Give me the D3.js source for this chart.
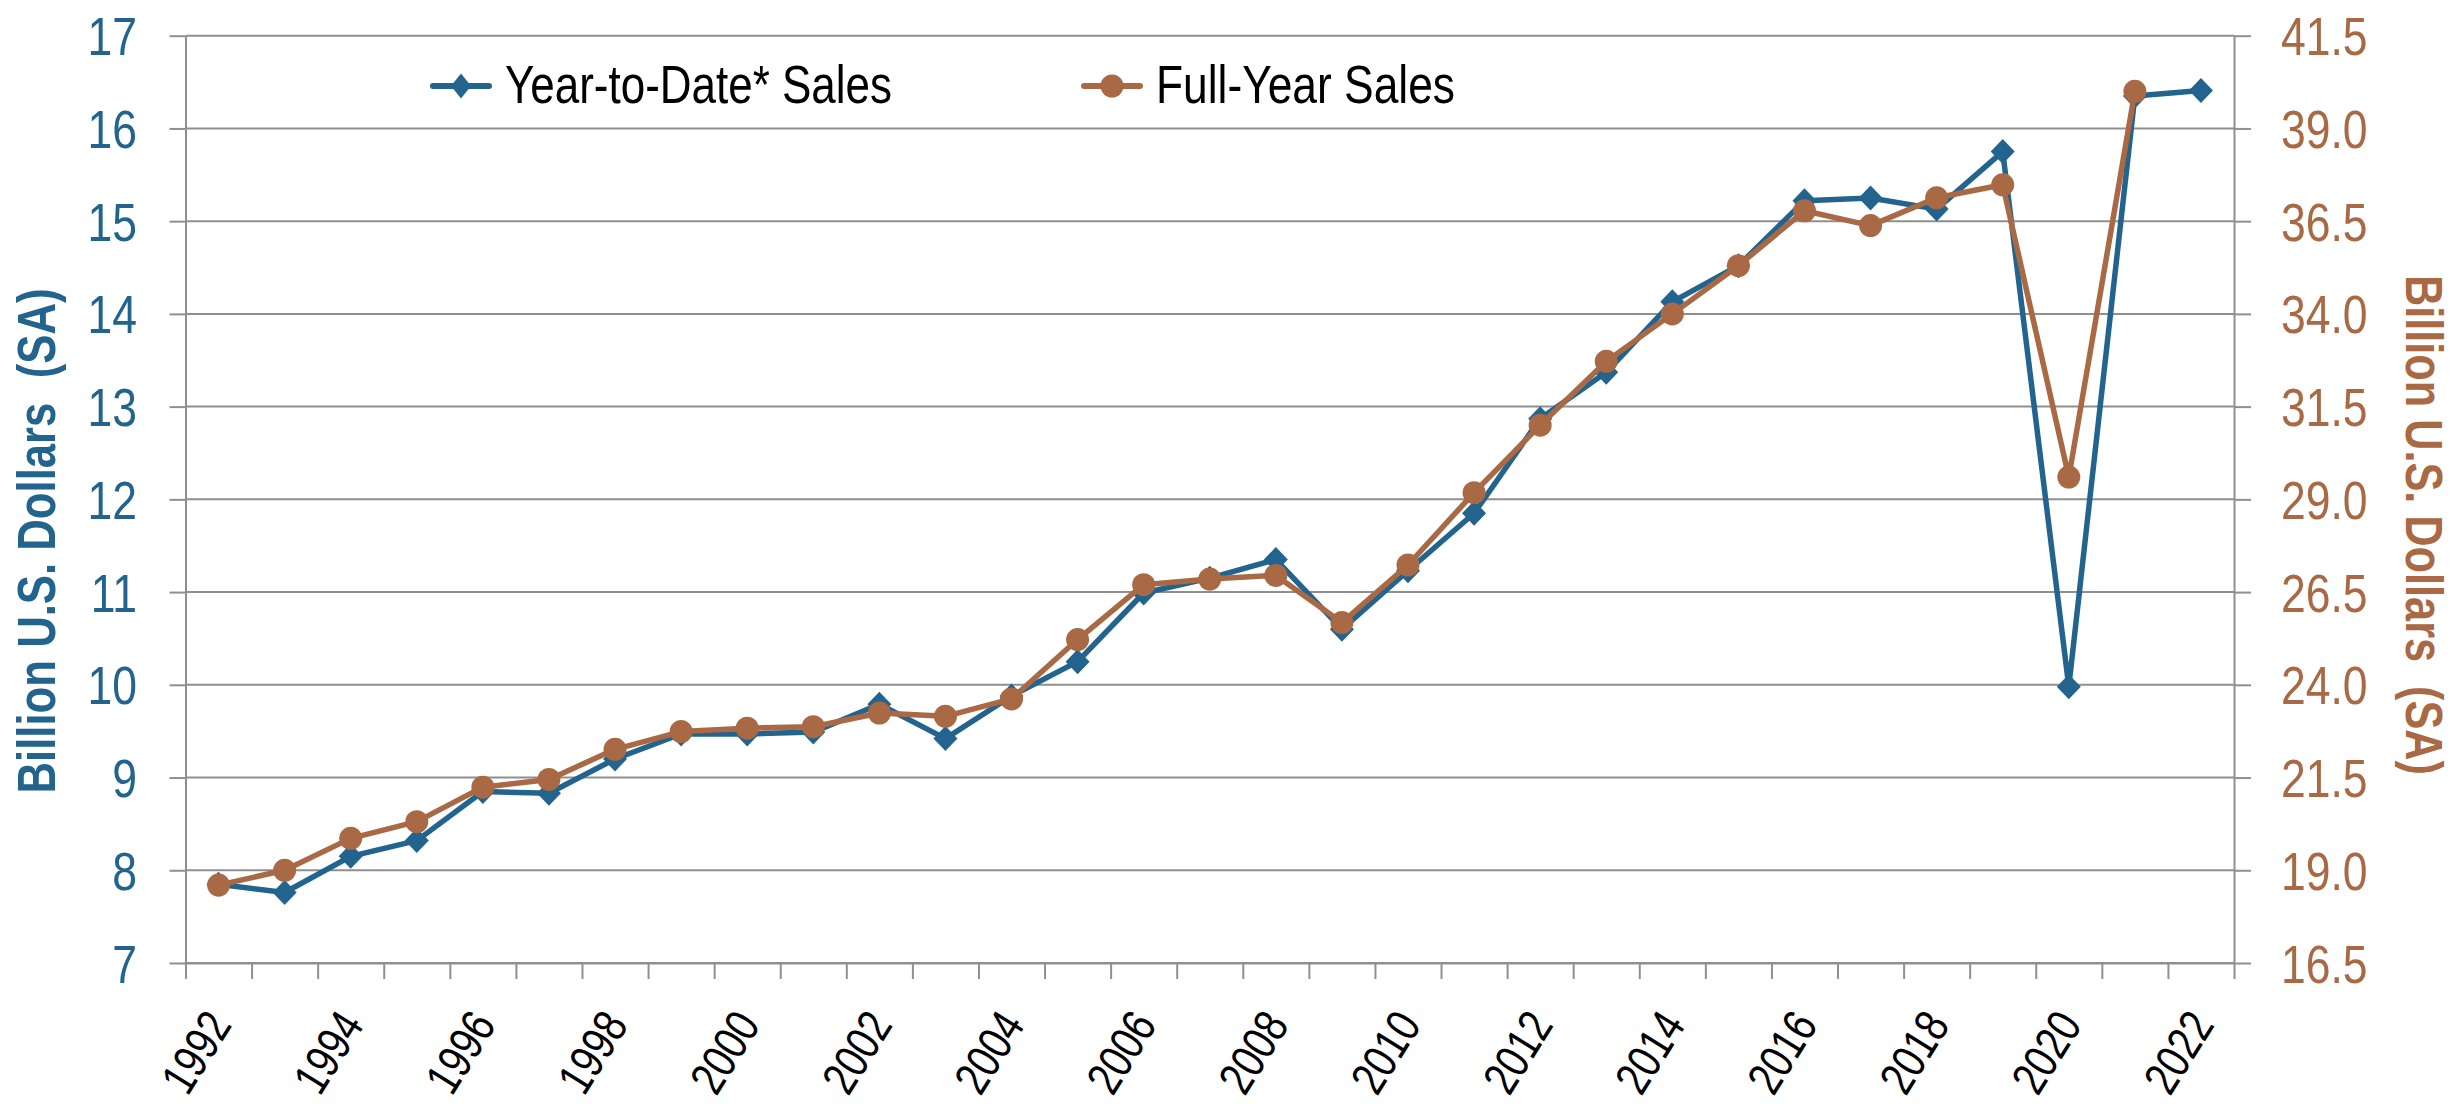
<!DOCTYPE html>
<html>
<head>
<meta charset="utf-8">
<script src="https://d3js.org/d3.v7.min.js"></script>
<style>
  body { margin: 0; background: #fff; }
  svg { display: block; font-family: "Liberation Sans", Arial, sans-serif; }
</style>
</head>
<body>
<svg id="chart"></svg>
<script>
// data
const years = [1992, 1993, 1994, 1995, 1996, 1997, 1998, 1999, 2000, 2001, 2002,
  2003, 2004, 2005, 2006, 2007, 2008, 2009, 2010, 2011, 2012, 2013, 2014, 2015,
  2016, 2017, 2018, 2019, 2020, 2021, 2022]
// left axis, billion $
const ytdSales = [7.85, 7.76, 8.15, 8.32, 8.85, 8.83, 9.2, 9.47, 9.47, 9.49, 9.79,
  9.42, 9.88, 10.25, 10.99, 11.15, 11.35, 10.6, 11.23, 11.85, 12.87, 13.37, 14.13,
  14.52, 15.22, 15.25, 15.13, 15.75, 9.98, 16.35, 16.41]
// right axis, billion $
const fullSales = [18.6, 19.0, 19.86, 20.31, 21.24, 21.45, 22.26, 22.74, 22.83, 22.87,
  23.24, 23.15, 23.62, 25.22, 26.7, 26.85, 26.95, 25.68, 27.23, 29.18, 31.0, 32.72,
  34.0, 35.3, 36.78, 36.38, 37.13, 37.48, 29.6, 40.0, null]
const leftTicks = [7, 8, 9, 10, 11, 12, 13, 14, 15, 16, 17]
const rightTicks = [16.5, 19, 21.5, 24, 26.5, 29, 31.5, 34, 36.5, 39, 41.5]
const yearLabels = [1992, 1994, 1996, 1998, 2000, 2002, 2004, 2006, 2008, 2010,
  2012, 2014, 2016, 2018, 2020, 2022]
const seriesNames = ['Year-to-Date* Sales', 'Full-Year Sales']

const width = 2456
const height = 1104
const blue = '#22648e'
const brown = '#a86944'
const grid = '#8f8f8f'
const squeeze = 0.84

const plot = { left: 185.5, right: 2234, top: 35.7, bottom: 963 }

const svg = d3.select('#chart').attr('width', width).attr('height', height)

const x = d3.scaleBand().domain(years).range([plot.left, plot.right])
const xEdge = d3.scaleLinear().domain([0, years.length]).range([plot.left, plot.right])
const y = d3.scaleLinear().domain([7, 17]).range([plot.bottom, plot.top])
const yR = d3.scaleLinear().domain([16.5, 41.5]).range([plot.bottom, plot.top])
const cx = d => x(d) + x.bandwidth() / 2

// gridlines
svg.append('g').selectAll('line').data(leftTicks).join('line')
  .attr('x1', plot.left).attr('x2', plot.right)
  .attr('y1', d => y(d)).attr('y2', d => y(d))
  .attr('stroke', grid).attr('stroke-width', 2)

// left axis
const gl = svg.append('g').attr('transform', `translate(${plot.left},0)`)
  .call(d3.axisLeft(y).tickValues(leftTicks).tickSize(16).tickSizeOuter(0).tickPadding(32))
gl.selectAll('path, line').attr('stroke', grid).attr('stroke-width', 2)
gl.selectAll('text')
  .attr('fill', blue).attr('font-size', 53).attr('font-family', null)
  .attr('x', -48.5 / squeeze).attr('dy', '0.36em')
  .attr('transform', `scale(${squeeze},1)`)

// right axis
const gr = svg.append('g').attr('transform', `translate(${plot.right},0)`)
  .call(d3.axisRight(yR).tickValues(rightTicks).tickFormat(d3.format('.1f'))
    .tickSize(17).tickSizeOuter(0).tickPadding(30))
gr.selectAll('path, line').attr('stroke', grid).attr('stroke-width', 2)
gr.selectAll('text')
  .attr('fill', brown).attr('font-size', 53).attr('font-family', null)
  .attr('x', 47 / squeeze).attr('dy', '0.36em')
  .attr('transform', `scale(${squeeze},1)`)

// bottom axis: ticks between the years
const gb = svg.append('g').attr('transform', `translate(0,${plot.bottom})`)
  .call(d3.axisBottom(xEdge).tickValues(d3.range(0, years.length + 1))
    .tickFormat('').tickSize(16).tickSizeOuter(0))
gb.selectAll('path, line').attr('stroke', grid).attr('stroke-width', 2)

// year labels
const gy = svg.append('g').attr('transform', `translate(0,${plot.bottom})`)
  .call(d3.axisBottom(x).tickValues(yearLabels).tickSize(0))
gy.select('.domain').remove()
gy.selectAll('.tick').attr('transform', d => `translate(${cx(d)},53)`)
gy.selectAll('text')
  .attr('fill', '#000').attr('font-size', 48).attr('font-family', null)
  .attr('y', 0).attr('dy', '0.35em').attr('text-anchor', 'end')
  .attr('transform', `rotate(-58) scale(0.8,1)`)

// axis titles
svg.append('text')
  .attr('transform', 'translate(55,541) rotate(-90)')
  .attr('text-anchor', 'middle').attr('font-size', 53).attr('font-weight', 'bold')
  .attr('fill', blue).attr('textLength', 505).attr('lengthAdjust', 'spacingAndGlyphs')
  .attr('xml:space', 'preserve')
  .text('Billion U.S. Dollars  (SA)')
svg.append('text')
  .attr('transform', 'translate(2406,525) rotate(90)')
  .attr('text-anchor', 'middle').attr('font-size', 51).attr('font-weight', 'bold')
  .attr('fill', brown).attr('textLength', 500).attr('lengthAdjust', 'spacingAndGlyphs')
  .attr('xml:space', 'preserve')
  .text('Billion U.S. Dollars  (SA)')

const diamond = (w, h) => `M0,${-h}L${w},0L0,${h}L${-w},0Z`

// series
const ytdPts = years.map((yr, i) => ({ yr, v: ytdSales[i] }))
const fullPts = years.map((yr, i) => ({ yr, v: fullSales[i] })).filter(d => d.v != null)

svg.append('path').datum(ytdPts)
  .attr('d', d3.line().x(d => cx(d.yr)).y(d => y(d.v)))
  .attr('fill', 'none').attr('stroke', blue).attr('stroke-width', 5.5)
  .attr('stroke-linejoin', 'round')
svg.append('g').selectAll('path').data(ytdPts).join('path')
  .attr('transform', d => `translate(${cx(d.yr)},${y(d.v)})`)
  .attr('d', diamond(12, 12.5)).attr('fill', blue)

svg.append('path').datum(fullPts)
  .attr('d', d3.line().x(d => cx(d.yr)).y(d => yR(d.v)))
  .attr('fill', 'none').attr('stroke', brown).attr('stroke-width', 5.5)
  .attr('stroke-linejoin', 'round')
svg.append('g').selectAll('circle').data(fullPts).join('circle')
  .attr('cx', d => cx(d.yr)).attr('cy', d => yR(d.v)).attr('r', 11.5)
  .attr('fill', brown)

// legend
const legend = [
  { name: seriesNames[0], color: blue, x: 433, len: 387, shape: 'diamond' },
  { name: seriesNames[1], color: brown, x: 1084, len: 299, shape: 'circle' }
]
const lg = svg.append('g').selectAll('g').data(legend).join('g')
  .attr('transform', d => `translate(${d.x},86)`)
lg.append('line').attr('x1', 0).attr('x2', 56)
  .attr('stroke', d => d.color).attr('stroke-width', 6).attr('stroke-linecap', 'round')
lg.filter(d => d.shape === 'diamond').append('path')
  .attr('transform', 'translate(28,0)').attr('d', diamond(10, 12.5)).attr('fill', d => d.color)
lg.filter(d => d.shape === 'circle').append('circle')
  .attr('cx', 28).attr('r', 11.5).attr('fill', d => d.color)
lg.append('text').attr('x', 72).attr('y', 17)
  .attr('font-size', 53).attr('fill', '#000')
  .attr('textLength', d => d.len).attr('lengthAdjust', 'spacingAndGlyphs')
  .text(d => d.name)
</script>
</body>
</html>
